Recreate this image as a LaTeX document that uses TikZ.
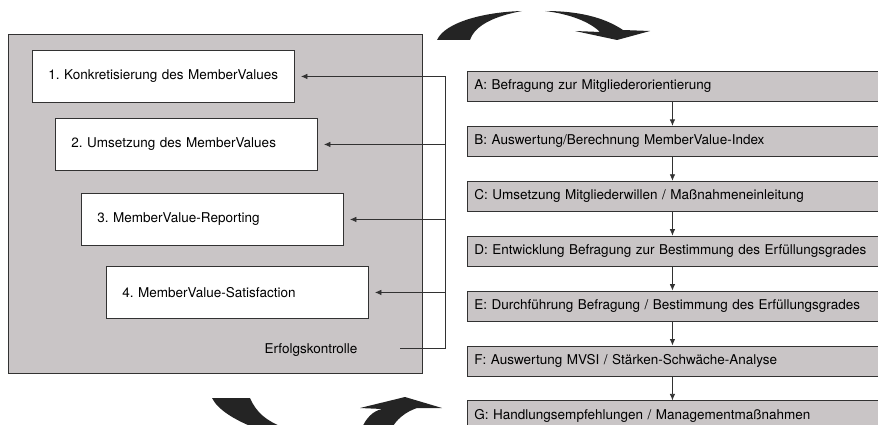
\documentclass[tikz,border=0pt]{standalone}
\usepackage{fontspec}
\setmainfont{TeX Gyre Heros}
\usetikzlibrary{positioning,arrows.meta}
\frenchspacing

\definecolor{panelgray}{RGB}{201,197,198}
\definecolor{linegray}{RGB}{50,50,50}
\definecolor{swooshgray}{RGB}{36,36,36}

\tikzset{
    stagebox/.style={draw=linegray, line width=0.9pt, fill=white, minimum height=52pt,
        text width=230pt, inner xsep=16pt, align=left, anchor=north west,
        font=\fontsize{13.5}{15}\selectfont},
    stepbox/.style={draw=linegray, line width=0.9pt, fill=panelgray, minimum height=30pt,
        text width=406pt, inner xsep=7pt, align=left,
        font=\fontsize{13.5}{15}\selectfont},
    feedarrow/.style={-{Latex[length=6.5pt,width=5.5pt]}, line width=0.8pt, linegray},
    swoosh/.style={fill=swooshgray, draw=none}
}

\begin{document}
\begin{tikzpicture}[x=1pt,y=-1pt]

    \useasboundingbox (0,0) rectangle (878,425);
    \clip (0,0) rectangle (878,425);

    % Left panel: MemberValue stages
    \node[draw=linegray, line width=0.9pt, fill=panelgray, anchor=north west,
          minimum width=414pt, minimum height=339pt] (panel) at (8,34) {};

    \node[stagebox] (k1) at (32,50) {1. Konkretisierung des MemberValues};
    \node[stagebox] (k2) at (55,118) {2. Umsetzung des MemberValues};
    \node[stagebox] (k3) at (81,193) {3. MemberValue-Reporting};
    \node[stagebox] (k4) at (106,266) {4. MemberValue-Satisfaction};

    \node[font=\fontsize{13.5}{15}\selectfont] (erfolg) at (311,350) {Erfolgskontrolle};

    % Feedback loop back into the stages
    \coordinate (fbstart) at (400,348);
    \coordinate (fbcorner) at (445,348);
    \draw[line width=0.8pt, linegray] (fbstart) -- (fbcorner) -- (fbcorner |- k1.east);
    \foreach \k in {k1,k2,k3,k4} {
        \draw[feedarrow, shorten >=6pt] (fbcorner |- \k.east) -- (\k.east);
    }

    % Right column: steps A to G
    \node[stepbox, anchor=north west] (sA) at (467,71) {A: Befragung zur Mitgliederorientierung};
    \node[stepbox, below=24pt of sA] (sB) {B: Auswertung/Berechnung MemberValue-Index};
    \node[stepbox, below=24pt of sB] (sC) {C: Umsetzung Mitgliederwillen / Maßnahmeneinleitung};
    \node[stepbox, below=24pt of sC] (sD) {D: Entwicklung Befragung zur Bestimmung des Erfüllungsgrades};
    \node[stepbox, below=24pt of sD] (sE) {E: Durchführung Befragung / Bestimmung des Erfüllungsgrades};
    \node[stepbox, below=24pt of sE] (sF) {F: Auswertung MVSI / Stärken-Schwäche-Analyse};
    \node[stepbox, below=24pt of sF] (sG) {G: Handlungsempfehlungen / Managementmaßnahmen};

    \foreach \a/\b in {sA/sB,sB/sC,sC/sD,sD/sE,sE/sF,sF/sG} {
        \draw[feedarrow] ([xshift=-5pt]\a.south) -- ([xshift=-5pt]\b.north);
    }

    % Swoosh arrows (cycle)
    \fill[swoosh] (437,40) .. controls (445,22) and (485,12) .. (522,11)
        .. controls (495,16) and (475,25) .. (470,40) -- cycle;
    \fill[swoosh] (545,11) .. controls (585,11) and (608,20) .. (623,30)
        -- (650,31) -- (617,40) -- (575,31) -- (600,32)
        .. controls (590,22) and (570,14) .. (545,11) -- cycle;
    \fill[swoosh] (212,398) -- (250,398) .. controls (256,412) and (266,421) .. (285,428)
        -- (255,428) .. controls (235,420) and (218,410) .. (212,398) -- cycle;
    \fill[swoosh] (362,428) .. controls (366,418) and (373,411) .. (382,409)
        -- (360,408) -- (405,397) -- (442,408) -- (417,408)
        .. controls (405,412) and (396,420) .. (392,428) -- cycle;

\end{tikzpicture}
\end{document}
